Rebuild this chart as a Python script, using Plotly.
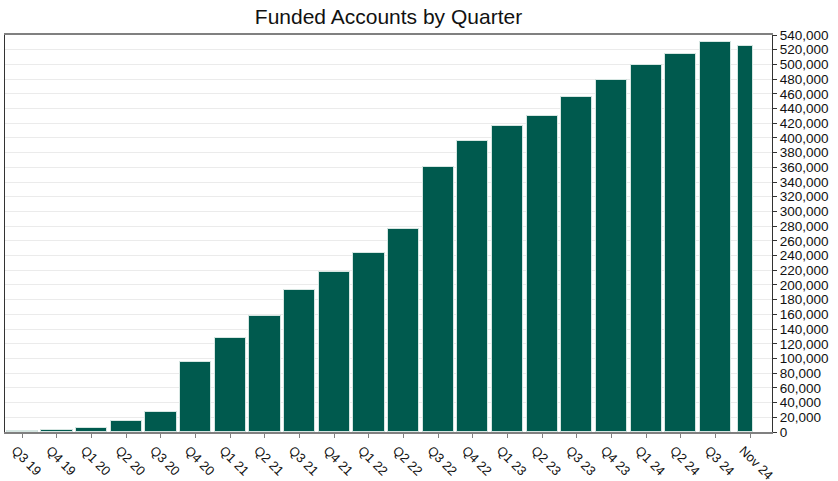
import plotly.graph_objects as go

quarters = ["Q3 19", "Q4 19", "Q1 20", "Q2 20", "Q3 20", "Q4 20", "Q1 21", "Q2 21",
            "Q3 21", "Q4 21", "Q1 22", "Q2 22", "Q3 22", "Q4 22", "Q1 23", "Q2 23",
            "Q3 23", "Q4 23", "Q1 24", "Q2 24", "Q3 24", "Nov 24"]
funded_accounts = [1800, 3100, 5800, 14400, 27600, 95500, 128500, 158400,
                   192800, 217300, 243100, 275700, 359900, 396000, 416000, 430500,
                   455000, 478900, 498800, 514200, 530100, 524600]
y_ticks = list(range(0, 540001, 20000))
y_tick_labels = [f"{v:,}" for v in y_ticks]

n = len(quarters)
widths = [0.9] * (n - 1) + [0.45]
offsets = [-0.45] * (n - 1) + [-0.36]

fig = go.Figure(go.Bar(
    x=quarters,
    y=funded_accounts,
    width=widths,
    offset=offsets,
    marker=dict(color="#005a4e", line=dict(color="#d6e6e2", width=1)),
))

fig.update_layout(
    width=838, height=481,
    margin=dict(l=5, r=66, t=35, b=49, autoexpand=False),
    paper_bgcolor="white", plot_bgcolor="white",
    font=dict(family="Liberation Sans, Arial, sans-serif", color="#111"),
    title=dict(text="Funded Accounts by Quarter", x=(5 + 772) / 2 / 838, xanchor="center",
               y=1 - 17 / 481, yanchor="middle", font=dict(size=21, color="#111")),
    showlegend=False,
    bargap=0,
)
fig.update_xaxes(
    type="category", range=[-0.5, 21.63], tickangle=45, automargin=False,
    showline=True, linecolor="#808080", linewidth=1.5, mirror=True,
    ticks="outside", ticklen=4, tickcolor="#808080",
    ticklabelshift=-7, ticklabelstandoff=0,
    tickfont=dict(size=13, color="#111"), showgrid=False,
)
fig.update_yaxes(
    side="right", range=[0, 540000], tickvals=y_ticks, ticktext=y_tick_labels,
    automargin=False,
    showline=True, linecolor="#333", linewidth=1, mirror=True,
    ticks="outside", ticklen=4, tickcolor="#333",
    tickfont=dict(size=13.5, color="#111"),
    showgrid=True, gridcolor="#ebebeb", gridwidth=1, zeroline=False,
)

fig.write_html(
    "out.html",
    config={"displayModeBar": False},
    post_script="document.body.style.margin='0';document.body.style.overflow='hidden';",
)
